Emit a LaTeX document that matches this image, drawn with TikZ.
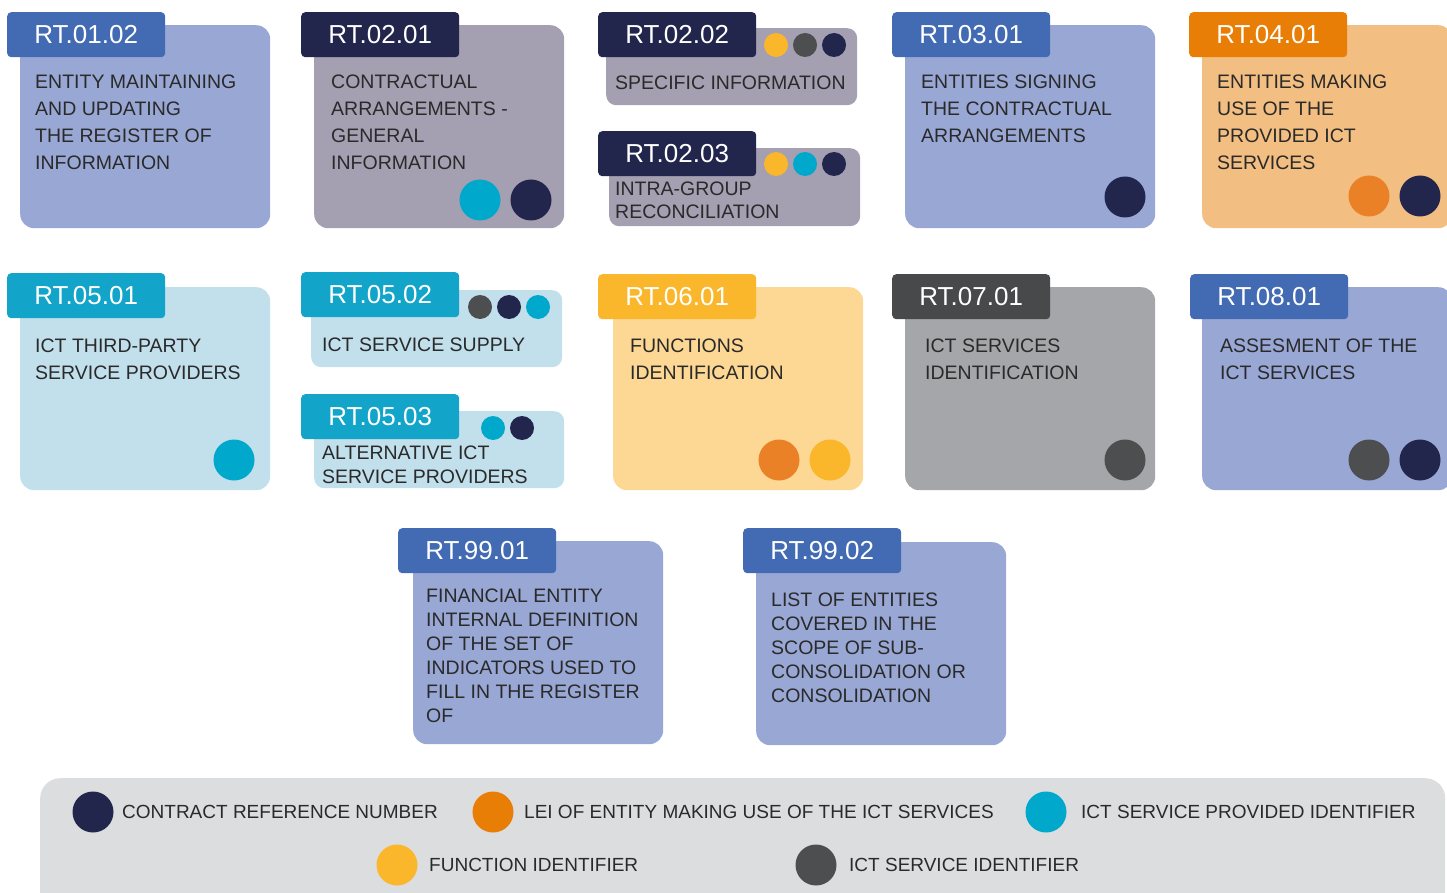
\documentclass[tikz,border=0pt]{standalone}
\usepackage{fontspec}
\setmainfont{Liberation Sans}
\usepackage{xcolor}
\usepackage{tikz}
\usetikzlibrary{positioning}
\definecolor{tblue}{HTML}{436BB4}
\definecolor{bblue}{HTML}{99A7D5}
\definecolor{navy}{HTML}{22264D}
\definecolor{bmauve}{HTML}{A49FB1}
\definecolor{torange}{HTML}{E87E05}
\definecolor{borange}{HTML}{F3BE82}
\definecolor{dorange}{HTML}{EB8127}
\definecolor{tcyan}{HTML}{12A5C9}
\definecolor{bcyan}{HTML}{C2DFEC}
\definecolor{dcyan}{HTML}{00A8CC}
\definecolor{tyellow}{HTML}{FBB72C}
\definecolor{byellow}{HTML}{FDD794}
\definecolor{tgray}{HTML}{48494B}
\definecolor{bgray}{HTML}{A5A6A9}
\definecolor{dgray}{HTML}{4D4E50}
\definecolor{lgray}{HTML}{DCDDDF}
\definecolor{ink}{HTML}{2A2A2A}
\tikzset{
  % card body, tag on its corner, dots for the identifiers
  card/.style  = {rectangle, rounded corners=14pt, fill=#1, anchor=north west,
                  inner sep=0pt, minimum width=250pt, minimum height=203pt},
  strip/.style = {card=#1, rounded corners=10pt, minimum height=77pt},
  tag/.style   = {rectangle, rounded corners=4pt, fill=#1, anchor=north west,
                  inner sep=0pt, minimum width=158pt, minimum height=45pt,
                  text=white, font=\fontsize{26}{26}\selectfont},
  txt/.style   = {anchor=north west, inner sep=0pt, align=left, text=ink,
                  font=\fontsize{19.5}{#1}\selectfont},
  txt/.default = 27,
  dot/.style   = {circle, fill=#1, minimum size=41pt, inner sep=0pt},
  pip/.style   = {circle, fill=#1, minimum size=24pt, inner sep=0pt},
  key/.style   = {anchor=west, inner sep=0pt, text=ink, font=\fontsize{19}{24}\selectfont},
}
\begin{document}
\begin{tikzpicture}[x=1pt,y=-1pt]
\useasboundingbox (0,0) rectangle (1447,893);
\clip (0,0) rectangle (1447,893);

% first row
\node[card=bblue] (b0102) at (20,25) {};
\node[tag=tblue] (t0102) at (7,12) {RT.01.02};
\node[txt] (x0102) at (35,75) {ENTITY MAINTAINING\\AND UPDATING\\THE REGISTER OF\\INFORMATION};

\node[card=bmauve] (b0201) at (314,25) {};
\node[tag=navy] (t0201) at (301,12) {RT.02.01};
\node[txt] (x0201) at (331,75) {CONTRACTUAL\\ARRANGEMENTS -\\GENERAL\\INFORMATION};
\node[dot=dcyan] (d0201a) at (480,200) {};
\node[dot=navy]  (d0201b) at (531,200) {};

\node[strip=bmauve, minimum width=251pt] (b0202) at (606,28) {};
\node[tag=navy] (t0202) at (598,12) {RT.02.02};
\node[txt] (x0202) at (615,76) {SPECIFIC INFORMATION};
\node[pip=tyellow] (p0202a) at (776,45) {};
\node[pip=dgray]   (p0202b) at (805,45) {};
\node[pip=navy]    (p0202c) at (834,45) {};

\node[strip=bmauve, minimum width=251pt, minimum height=78pt] (b0203) at (609,148) {};
\node[tag=navy] (t0203) at (598,131) {RT.02.03};
\node[txt=23] (x0203) at (615,182) {INTRA-GROUP\\RECONCILIATION};
\node[pip=tyellow] (p0203a) at (776,164) {};
\node[pip=dcyan]   (p0203b) at (805,164) {};
\node[pip=navy]    (p0203c) at (834,164) {};

\node[card=bblue] (b0301) at (905,25) {};
\node[tag=tblue] (t0301) at (892,12) {RT.03.01};
\node[txt] (x0301) at (921,75) {ENTITIES SIGNING\\THE CONTRACTUAL\\ARRANGEMENTS};
\node[dot=navy] (d0301) at (1125,197) {};

\node[card=borange] (b0401) at (1202,25) {};
\node[tag=torange] (t0401) at (1189,12) {RT.04.01};
\node[txt] (x0401) at (1217,75) {ENTITIES MAKING\\USE OF THE\\PROVIDED ICT\\SERVICES};
\node[dot=dorange] (d0401a) at (1369,196) {};
\node[dot=navy]    (d0401b) at (1420,196) {};

% second row
\node[card=bcyan] (b0501) at (20,287) {};
\node[tag=tcyan] (t0501) at (7,273) {RT.05.01};
\node[txt] (x0501) at (35,339) {ICT THIRD-PARTY\\SERVICE PROVIDERS};
\node[dot=dcyan] (d0501) at (234,460) {};

\node[strip=bcyan, minimum width=251pt] (b0502) at (311,290) {};
\node[tag=tcyan] (t0502) at (301,272) {RT.05.02};
\node[txt] (x0502) at (322,338) {ICT SERVICE SUPPLY};
\node[pip=dgray] (p0502a) at (480,307) {};
\node[pip=navy]  (p0502b) at (509,307) {};
\node[pip=dcyan] (p0502c) at (538,307) {};

\node[strip=bcyan] (b0503) at (314,411) {};
\node[tag=tcyan] (t0503) at (301,394) {RT.05.03};
\node[txt=24] (x0503) at (322,446) {ALTERNATIVE ICT\\SERVICE PROVIDERS};
\node[pip=dcyan] (p0503a) at (493,428) {};
\node[pip=navy]  (p0503b) at (522,428) {};

\node[card=byellow] (b0601) at (613,287) {};
\node[tag=tyellow] (t0601) at (598,274) {RT.06.01};
\node[txt] (x0601) at (630,339) {FUNCTIONS\\IDENTIFICATION};
\node[dot=dorange] (d0601a) at (779,460) {};
\node[dot=tyellow] (d0601b) at (830,460) {};

\node[card=bgray] (b0701) at (905,287) {};
\node[tag=tgray] (t0701) at (892,274) {RT.07.01};
\node[txt] (x0701) at (925,339) {ICT SERVICES\\IDENTIFICATION};
\node[dot=dgray] (d0701) at (1125,460) {};

\node[card=bblue] (b0801) at (1202,287) {};
\node[tag=tblue] (t0801) at (1190,274) {RT.08.01};
\node[txt] (x0801) at (1220,339) {ASSESMENT OF THE\\ICT SERVICES};
\node[dot=dgray] (d0801a) at (1369,460) {};
\node[dot=navy]  (d0801b) at (1420,460) {};

% third row
\node[card=bblue] (b9901) at (413,541) {};
\node[tag=tblue] (t9901) at (398,528) {RT.99.01};
\node[txt=24] (x9901) at (426,589) {FINANCIAL ENTITY\\INTERNAL DEFINITION\\OF THE SET OF\\INDICATORS USED TO\\FILL IN THE REGISTER\\OF};

\node[card=bblue] (b9902) at (756,542) {};
\node[tag=tblue] (t9902) at (743,528) {RT.99.02};
\node[txt=24] (x9902) at (771,593) {LIST OF ENTITIES\\COVERED IN THE\\SCOPE OF SUB-\\CONSOLIDATION OR\\CONSOLIDATION};

% legend
\node[card=lgray, rounded corners=20pt, minimum width=1405pt, minimum height=140pt] (legend) at (40,778) {};
\node[dot=navy]    (k1) at (93,812) {};
\node[key] (l1) at (122,812) {CONTRACT REFERENCE NUMBER};
\node[dot=torange] (k2) at (493,812) {};
\node[key] (l2) at (524,812) {LEI OF ENTITY MAKING USE OF THE ICT SERVICES};
\node[dot=dcyan]   (k3) at (1046,812) {};
\node[key] (l3) at (1081,812) {ICT SERVICE PROVIDED IDENTIFIER};
\node[dot=tyellow] (k4) at (397,865) {};
\node[key] (l4) at (429,865) {FUNCTION IDENTIFIER};
\node[dot=dgray]   (k5) at (816,865) {};
\node[key] (l5) at (849,865) {ICT SERVICE IDENTIFIER};
\end{tikzpicture}
\end{document}
